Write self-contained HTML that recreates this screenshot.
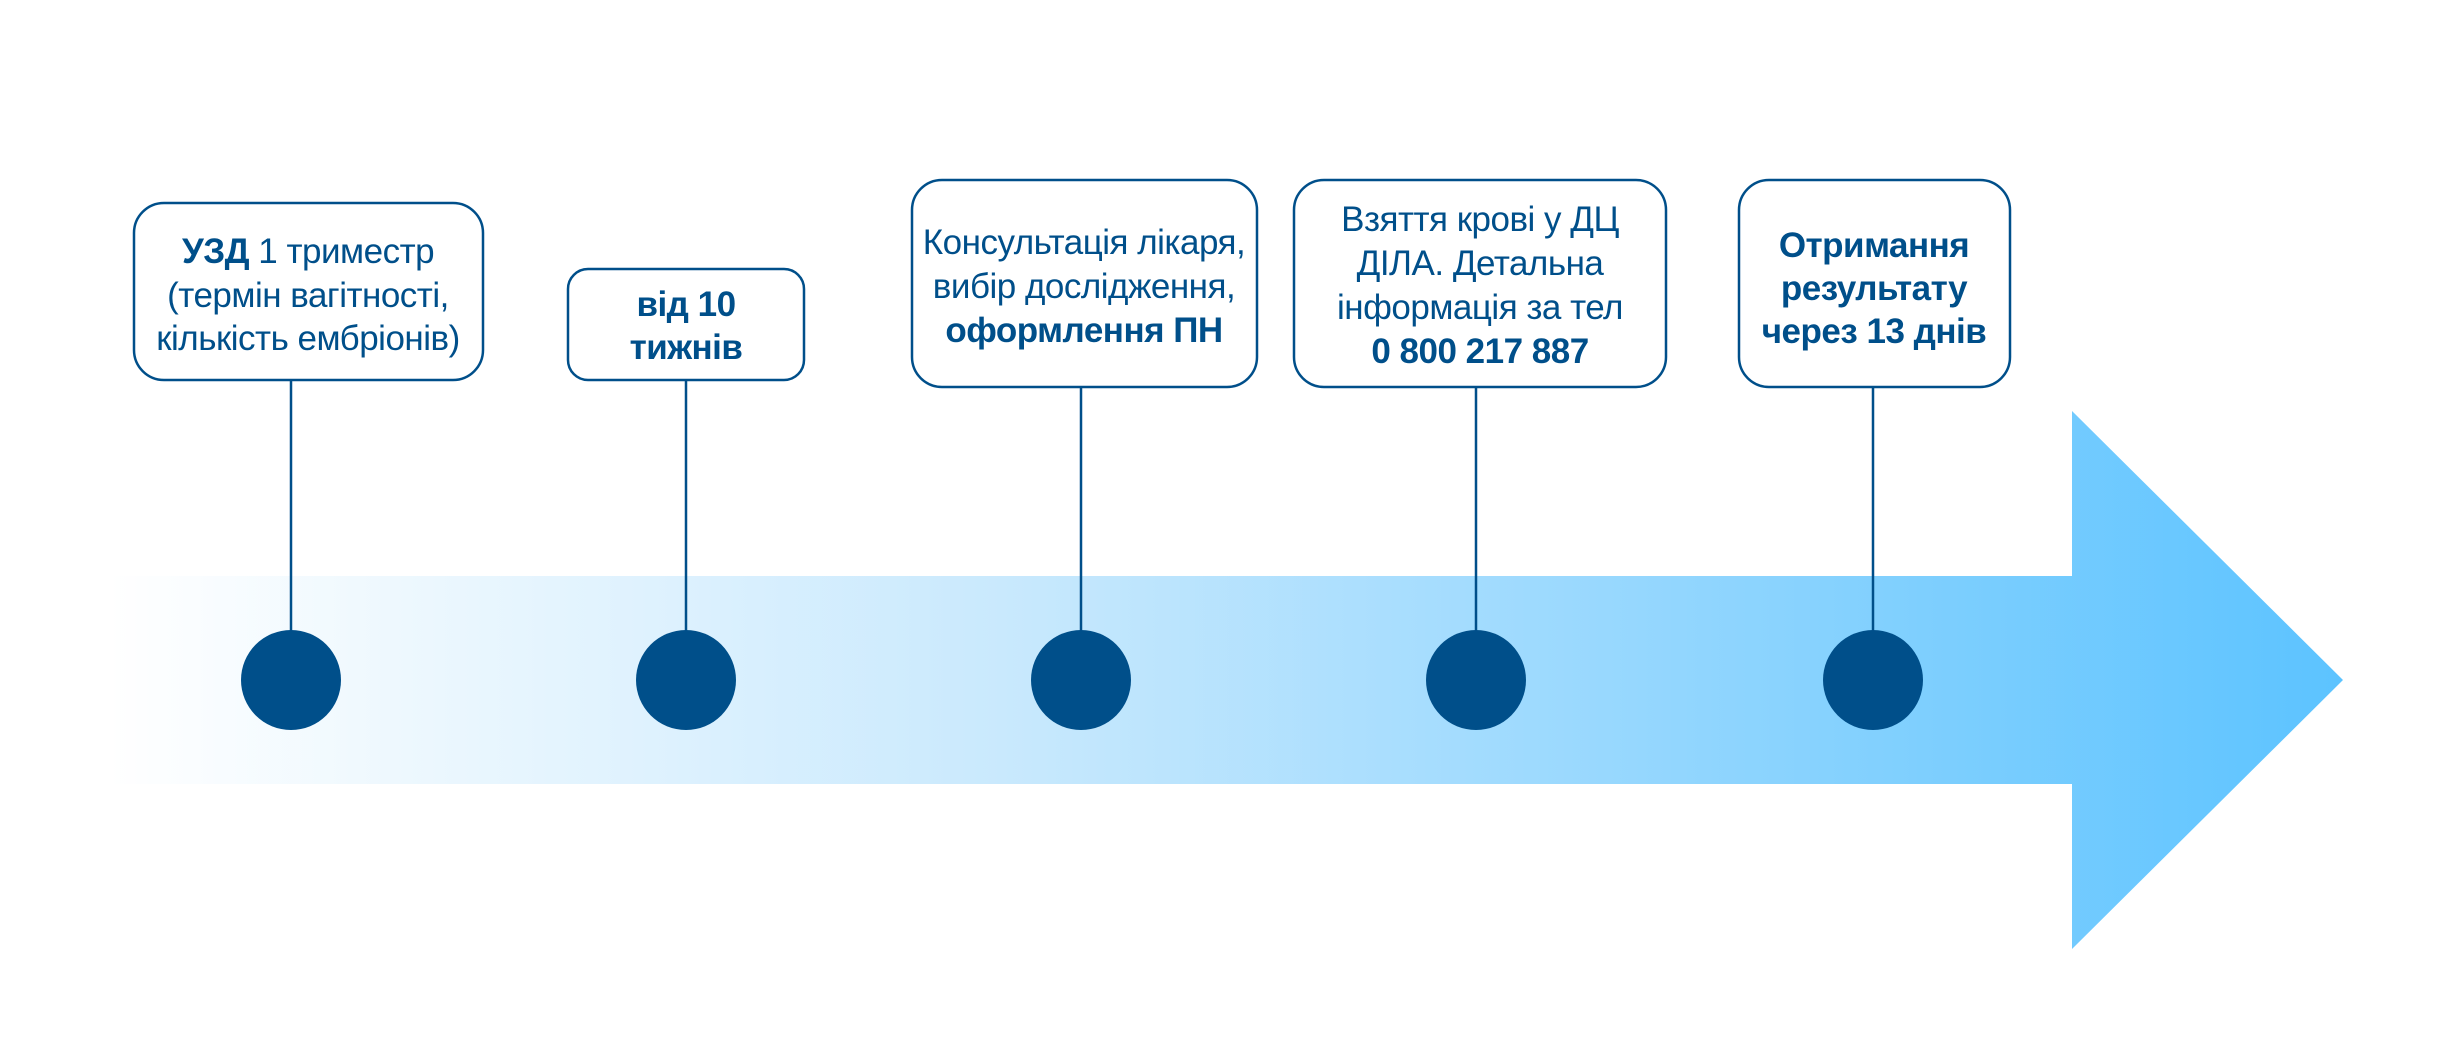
<!DOCTYPE html>
<html><head><meta charset="utf-8"><style>
html,body{margin:0;padding:0;background:#fff;}
svg{display:block;}
text{font-family:"Liberation Sans",sans-serif;font-size:35px;fill:#004f8a;text-anchor:middle;letter-spacing:-0.5px;}
.b{font-weight:bold;}
</style></head><body>
<svg width="2439" height="1058" viewBox="0 0 2439 1058" xmlns="http://www.w3.org/2000/svg">
<defs>
<linearGradient id="g" x1="109" y1="0" x2="2343" y2="0" gradientUnits="userSpaceOnUse">
<stop offset="0" stop-color="#ffffff"/>
<stop offset="0.4" stop-color="#c9e9fd"/>
<stop offset="1" stop-color="#5cc3ff"/>
</linearGradient>
</defs>
<polygon points="109,576 2072,576 2072,411 2343,680 2072,949 2072,784 109,784" fill="url(#g)"/>
<g stroke="#004f8a" stroke-width="2.5" fill="#fff">
<rect x="134" y="203" width="349" height="177" rx="30"/>
<rect x="568" y="269" width="236" height="111" rx="20"/>
<rect x="912" y="180" width="345" height="207" rx="30"/>
<rect x="1294" y="180" width="372" height="207" rx="30"/>
<rect x="1739" y="180" width="271" height="207" rx="30"/>
<line x1="291" y1="380" x2="291" y2="680"/>
<line x1="686" y1="380" x2="686" y2="680"/>
<line x1="1081" y1="387" x2="1081" y2="680"/>
<line x1="1476" y1="387" x2="1476" y2="680"/>
<line x1="1873" y1="387" x2="1873" y2="680"/>
</g>
<g fill="#004f8a">
<circle cx="291" cy="680" r="50"/>
<circle cx="686" cy="680" r="50"/>
<circle cx="1081" cy="680" r="50"/>
<circle cx="1476" cy="680" r="50"/>
<circle cx="1873" cy="680" r="50"/>
</g>
<text x="308" y="263"><tspan class="b">УЗД</tspan> 1 триместр</text>
<text x="308" y="307">(термін вагітності,</text>
<text x="308" y="350">кількість ембріонів)</text>
<text x="686" y="316" class="b">від 10</text>
<text x="686" y="359" class="b">тижнів</text>
<text x="1084" y="254">Консультація лікаря,</text>
<text x="1084" y="298">вибір дослідження,</text>
<text x="1084" y="342" class="b">оформлення ПН</text>
<text x="1480" y="231">Взяття крові у ДЦ</text>
<text x="1480" y="275">ДІЛА. Детальна</text>
<text x="1480" y="319">інформація за тел</text>
<text x="1480" y="363" class="b">0 800 217 887</text>
<text x="1874" y="257" class="b">Отримання</text>
<text x="1874" y="300" class="b">результату</text>
<text x="1874" y="343" class="b">через 13 днів</text>
</svg>
</body></html>
